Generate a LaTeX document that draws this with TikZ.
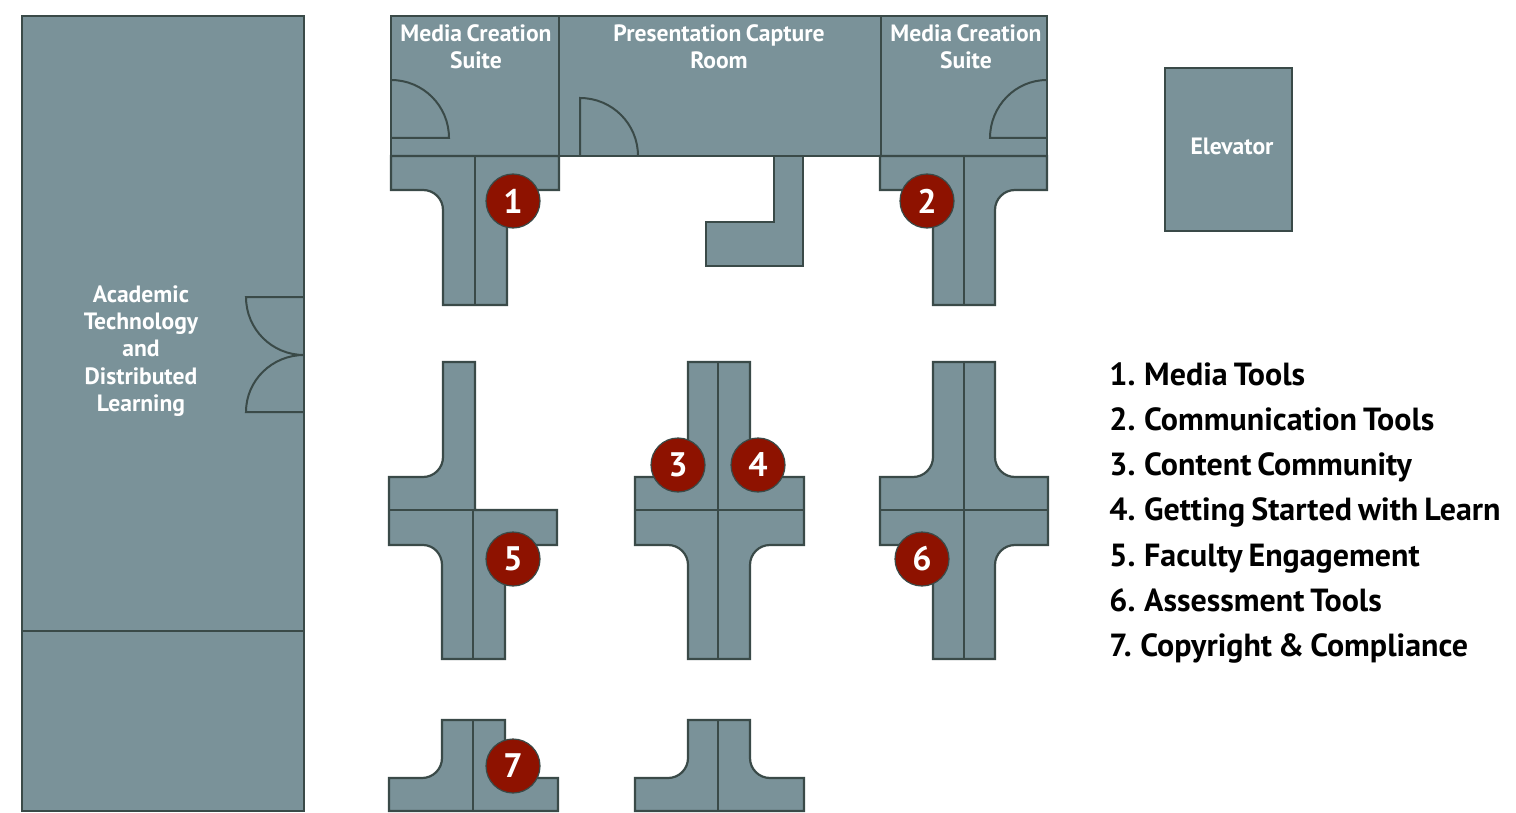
\documentclass[tikz,border=0pt]{standalone}
\usepackage{fontspec}
\setmainfont{PT Sans}[WordSpace=0.75]
\definecolor{roomfill}{HTML}{7A9299}
\definecolor{wallline}{HTML}{3A4A48}
\definecolor{badgered}{HTML}{8E1200}
\tikzset{
  room/.style={draw=wallline,fill=roomfill,line width=1.1pt,line join=miter},
  wall/.style={draw=wallline,line width=1pt},
  badge/.style={circle,draw=wallline,fill=badgered,line width=0.6pt,minimum size=27pt,inner sep=0pt,text=white,font=\fontsize{17}{17}\selectfont\bfseries},
  roomlabel/.style={text=white,align=center,font=\fontsize{11.8}{13.6}\selectfont\bfseries},
  keyline/.style={anchor=base west,text=black,inner sep=0pt,font=\fontsize{16}{18}\selectfont\bfseries}
}

\begin{document}
\begin{tikzpicture}[x=0.5pt,y=-0.5pt]
\useasboundingbox (0,0) rectangle (1516,813);

% === Academic room on the left ===
\draw[room] (22,16) rectangle (304,811);
\draw[wall] (22,631) -- (304,631);
\draw[wall] (304,297) -- (246,297) to[out=-90,in=180] (304,355);
\draw[wall] (304,412) -- (246,412) to[out=90,in=180] (304,355);
\node[roomlabel] (academic) at (141,351) {Academic\\Technology\\and\\Distributed\\Learning};

% === Rooms along the top ===
\draw[room] (391,16) rectangle (1047,156);
\draw[wall] (559,16) -- (559,156);
\draw[wall] (881,16) -- (881,156);
\draw[wall] (391,80) to[out=0,in=90] (449,138) -- (391,138);
\draw[wall] (580,156) -- (580,98) to[out=0,in=90] (638,156);
\draw[wall] (1047,80) to[out=180,in=90] (990,138) -- (1047,138);
\node[roomlabel] (suiteleft) at (476,47) {Media Creation\\Suite};
\node[roomlabel] (capture) at (719,47) {Presentation Capture\\Room};
\node[roomlabel] (suiteright) at (966,47) {Media Creation\\Suite};

% === Elevator ===
\draw[room] (1165,68) rectangle (1292,231);
\node[roomlabel] (elevator) at (1232,146) {Elevator};

% === Desks under the rooms ===
\draw[room] (391,156) -- (391,190) -- (423,190) to[out=0,in=90] (443,210) -- (443,305)
  -- (507,305) -- (507,190) -- (559,190) -- (559,156) -- cycle;
\draw[wall] (475,156) -- (475,305);

\draw[room] (774,156) -- (774,222) -- (706,222) -- (706,266) -- (803,266) -- (803,156) -- cycle;

\draw[room] (880,156) -- (880,190) -- (933,190) -- (933,305) -- (995,305) -- (995,210)
  to[out=90,in=180] (1015,190) -- (1047,190) -- (1047,156) -- cycle;
\draw[wall] (964,156) -- (964,305);

% === Middle row of desks ===
\draw[room] (443,362) -- (443,457) to[out=-90,in=0] (423,477) -- (389,477) -- (389,545) -- (423,545)
  to[out=0,in=90] (442,565) -- (442,659) -- (505,659) -- (505,545) -- (557,545) -- (557,510)
  -- (475,510) -- (475,362) -- cycle;
\draw[wall] (389,510) -- (475,510);
\draw[wall] (473,510) -- (473,659);

\draw[room] (688,362) -- (688,457) to[out=-90,in=0] (668,477) -- (635,477) -- (635,545) -- (668,545)
  to[out=0,in=90] (688,565) -- (688,659) -- (750,659) -- (750,565) to[out=90,in=180] (770,545)
  -- (804,545) -- (804,477) -- (770,477) to[out=180,in=-90] (750,457) -- (750,362) -- cycle;
\draw[wall] (635,510) -- (804,510);
\draw[wall] (718,362) -- (718,659);

\draw[room] (933,362) -- (933,457) to[out=-90,in=0] (913,477) -- (880,477) -- (880,545) -- (913,545)
  to[out=0,in=90] (933,565) -- (933,659) -- (995,659) -- (995,565) to[out=90,in=180] (1015,545)
  -- (1048,545) -- (1048,477) -- (1015,477) to[out=180,in=-90] (995,457) -- (995,362) -- cycle;
\draw[wall] (880,510) -- (1048,510);
\draw[wall] (964,362) -- (964,659);

% === Bottom row of desks ===
\draw[room] (442,720) -- (442,758) to[out=-90,in=0] (422,778) -- (389,778) -- (389,811) -- (558,811)
  -- (558,778) -- (525,778) to[out=180,in=-90] (505,758) -- (505,720) -- cycle;
\draw[wall] (473,720) -- (473,811);

\draw[room] (688,720) -- (688,758) to[out=-90,in=0] (668,778) -- (635,778) -- (635,811) -- (804,811)
  -- (804,778) -- (770,778) to[out=180,in=-90] (750,758) -- (750,720) -- cycle;
\draw[wall] (718,720) -- (718,811);

% === Numbered badges ===
\node[badge] (badgeone) at (513,201) {1};
\node[badge] (badgetwo) at (927,201) {2};
\node[badge] (badgethree) at (678,465) {3};
\node[badge] (badgefour) at (758,465) {4};
\node[badge] (badgefive) at (513,559) {5};
\node[badge] (badgesix) at (922,559) {6};
\node[badge] (badgeseven) at (513,766) {7};

% === Key on the right ===
\node[keyline] (keyone) at (1109,385) {1. Media Tools};
\node[keyline] (keytwo) at (1109,430) {2. Communication Tools};
\node[keyline] (keythree) at (1109,475) {3. Content Community};
\node[keyline] (keyfour) at (1109,520) {4. Getting Started with Learn};
\node[keyline] (keyfive) at (1109,566) {5. Faculty Engagement};
\node[keyline] (keysix) at (1109,611) {6. Assessment Tools};
\node[keyline] (keyseven) at (1109,656) {7. Copyright \& Compliance};

\end{tikzpicture}
\end{document}
